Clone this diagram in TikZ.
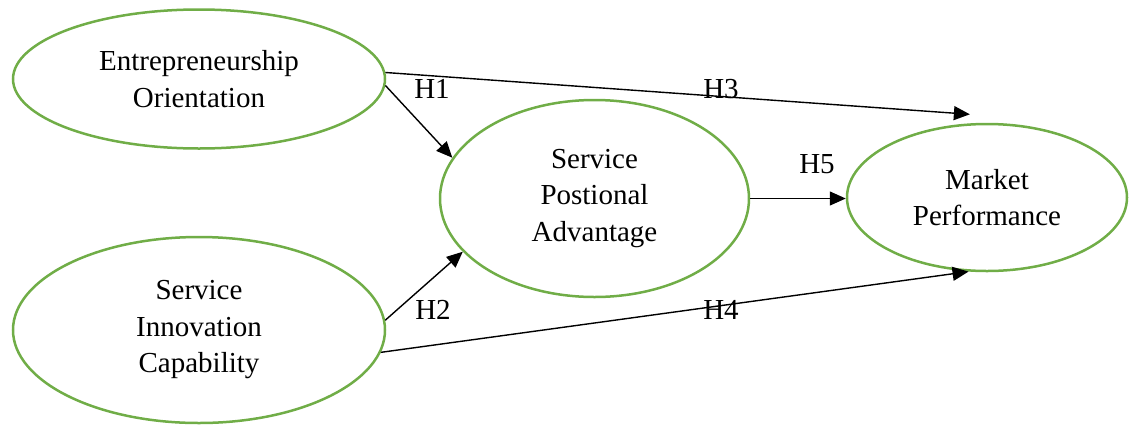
\documentclass[tikz,border=0pt]{standalone}
\usepackage{fontspec}
\setmainfont{Liberation Serif}
\usetikzlibrary{shapes.geometric,arrows.meta}
\definecolor{grn}{HTML}{70AD47}
\begin{document}
\begin{tikzpicture}[x=1pt,y=-1pt,
  construct/.style={ellipse,draw=grn,line width=2.5pt,inner sep=0pt,align=center,
    font=\fontsize{29}{36.5}\selectfont},
  hyp/.style={draw=black,line width=1.4pt,-{Triangle[length=16pt,width=14pt]}},
  hlabel/.style={anchor=base,inner sep=0pt,font=\fontsize{29}{35}\selectfont}]
\useasboundingbox (0,0) rectangle (1133,424);
\node[construct,minimum width=372pt,minimum height=139pt] (eo) at (199,79) {Entrepreneurship\\Orientation};
\node[construct,minimum width=372pt,minimum height=186pt] (sic) at (199,330) {Service\\Innovation\\Capability};
\node[construct,minimum width=309pt,minimum height=197pt] (spa) at (594.5,198.5) {Service\\Postional\\Advantage};
\node[construct,minimum width=280pt,minimum height=147pt] (mp) at (987,197.5) {Market\\Performance};
% connectors
\draw[hyp] (eo.2) -- ([yshift=9pt]mp.103);
\draw[hyp] (eo.-2) -- (spa.164.6);
\draw[hyp] (sic.3) -- (spa.202);
\draw[hyp] (sic.-7.2) -- (mp.256);
\draw[hyp] (spa.east) -- (spa.east -| mp.west);
% labels
\node[hlabel] (h1) at (432,98) {H1};
\node[hlabel] (h3) at (721,98) {H3};
\node[hlabel] (h2) at (433,319) {H2};
\node[hlabel] (h4) at (721,319) {H4};
\node[hlabel] (h5) at (817,173) {H5};
\end{tikzpicture}
\end{document}
